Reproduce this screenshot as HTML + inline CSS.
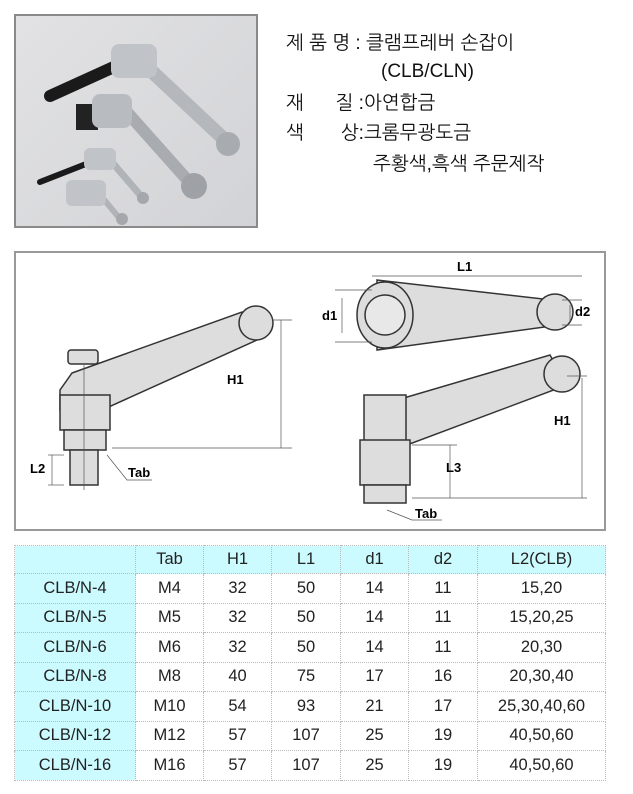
<!DOCTYPE html>
<html><head><meta charset="utf-8"><style>
body{margin:0;width:633px;height:794px;background:#fff;position:relative;overflow:hidden;font-family:"Liberation Sans","Noto Sans CJK KR",sans-serif}
.photo{position:absolute;left:14px;top:14px;width:244px;height:214px;border:2px solid #8a8a8a;background:linear-gradient(135deg,#e2e2e4,#d2d3d6);box-sizing:border-box}
.t{position:absolute;font-size:19px;color:#111;white-space:pre;font-family:"Liberation Sans","NanumGothic","Noto Sans CJK KR",sans-serif}
.diag{position:absolute;left:14px;top:251px;width:592px;height:280px;border:2px solid #999;box-sizing:border-box;background:#fff}
table{position:absolute;left:14px;top:545px;border-collapse:collapse;font-size:16.5px;color:#222}
td{border:1px dotted #bbb;text-align:center;height:28.5px;padding:0}
tr:first-child td{background:#ccfbff;height:27px}
td:first-child{background:#ccfbff}
</style></head><body>
<div class="photo">
<svg width="240" height="210" viewBox="0 0 240 210">
<g stroke-linecap="round">
<line x1="34" y1="80" x2="100" y2="50" stroke="#1a1a1a" stroke-width="12"/>
<line x1="130" y1="50" x2="210" y2="125" stroke="#b4b8bc" stroke-width="14"/>
<rect x="95" y="28" width="46" height="34" rx="8" fill="#c0c3c7"/>
<circle cx="212" cy="128" r="12" fill="#a8acb1"/>
<rect x="60" y="88" width="22" height="26" fill="#222"/>
<line x1="110" y1="95" x2="175" y2="168" stroke="#a8acb1" stroke-width="12"/>
<rect x="76" y="78" width="40" height="34" rx="8" fill="#b8bcc0"/>
<circle cx="178" cy="170" r="13" fill="#9ea2a7"/>
<line x1="24" y1="166" x2="70" y2="148" stroke="#1a1a1a" stroke-width="6"/>
<line x1="95" y1="145" x2="125" y2="180" stroke="#b0b4b9" stroke-width="7"/>
<rect x="68" y="132" width="32" height="22" rx="6" fill="#c0c3c7"/>
<circle cx="127" cy="182" r="6" fill="#a4a8ad"/>
<line x1="85" y1="180" x2="105" y2="204" stroke="#b0b4b9" stroke-width="6"/>
<rect x="50" y="164" width="40" height="26" rx="6" fill="#c0c3c7"/>
<circle cx="106" cy="203" r="6" fill="#a4a8ad"/>
</g></svg>
</div>
<div class="t" style="left:286px;top:31px">제 품 명 : 클램프레버 손잡이</div>
<div class="t" style="left:381px;top:61px">(CLB/CLN)</div>
<div class="t" style="left:286px;top:91px">재      질 :아연합금</div>
<div class="t" style="left:286px;top:121px">색       상:크롬무광도금</div>
<div class="t" style="left:373px;top:152px">주황색,흑색 주문제작</div>
<div class="diag">
<svg width="588" height="276" viewBox="14 253 588 276" font-family="Liberation Sans" font-weight="bold" font-size="13">
<g fill="#ddd" stroke="#333" stroke-width="1.5">
<path d="M70 373 L240 312 L255 340 L100 410 L58 410 L58 390 Z"/>
<rect x="58" y="395" width="50" height="35"/>
<rect x="62" y="430" width="42" height="20"/>
<rect x="68" y="450" width="28" height="35"/>
<rect x="66" y="350" width="30" height="14" rx="3"/>
<circle cx="254" cy="323" r="17"/>
<path d="M375 280 L550 300 L550 326 L375 350 Z"/>
<ellipse cx="383" cy="315" rx="28" ry="33"/>
<circle cx="383" cy="315" r="20" fill="#e8e8e8"/>
<circle cx="553" cy="312" r="18"/>
<path d="M395 400 L548 355 L565 385 L405 445 Z"/>
<rect x="362" y="395" width="42" height="50"/>
<rect x="358" y="440" width="50" height="45"/>
<rect x="362" y="485" width="42" height="18"/>
<circle cx="560" cy="374" r="18"/>
</g>
<g stroke="#555" stroke-width="0.7" fill="none">
<line x1="82" y1="365" x2="82" y2="490"/><line x1="270" y1="320" x2="290" y2="320"/>
<line x1="279" y1="320" x2="279" y2="448"/><line x1="110" y1="448" x2="290" y2="448"/>
<line x1="50" y1="455" x2="50" y2="485"/><line x1="46" y1="455" x2="62" y2="455"/><line x1="46" y1="485" x2="62" y2="485"/>
<line x1="370" y1="276" x2="580" y2="276"/><line x1="340" y1="298" x2="340" y2="333"/>
<line x1="333" y1="290" x2="370" y2="290"/><line x1="333" y1="342" x2="370" y2="342"/>
<line x1="568" y1="305" x2="568" y2="322"/><line x1="560" y1="300" x2="580" y2="300"/><line x1="560" y1="325" x2="580" y2="325"/>
<line x1="580" y1="378" x2="580" y2="498"/><line x1="565" y1="376" x2="585" y2="376"/><line x1="410" y1="498" x2="585" y2="498"/>
<line x1="448" y1="445" x2="448" y2="498"/><line x1="410" y1="445" x2="455" y2="445"/>
<path d="M105 455 L125 480 L150 480"/><path d="M385 510 L410 520 L440 520"/>
</g>
<text x="225" y="384">H1</text><text x="28" y="473">L2</text><text x="126" y="477">Tab</text>
<text x="455" y="271">L1</text><text x="320" y="320">d1</text><text x="573" y="316">d2</text>
<text x="552" y="425">H1</text><text x="444" y="472">L3</text><text x="413" y="518">Tab</text>
</svg>
</div>
<table>
<tr><td style="width:120px"></td><td style="width:67px">Tab</td><td style="width:67px">H1</td><td style="width:68px">L1</td><td style="width:67px">d1</td><td style="width:68px">d2</td><td style="width:127px">L2(CLB)</td></tr>
<tr><td>CLB/N-4</td><td>M4</td><td>32</td><td>50</td><td>14</td><td>11</td><td>15,20</td></tr>
<tr><td>CLB/N-5</td><td>M5</td><td>32</td><td>50</td><td>14</td><td>11</td><td>15,20,25</td></tr>
<tr><td>CLB/N-6</td><td>M6</td><td>32</td><td>50</td><td>14</td><td>11</td><td>20,30</td></tr>
<tr><td>CLB/N-8</td><td>M8</td><td>40</td><td>75</td><td>17</td><td>16</td><td>20,30,40</td></tr>
<tr><td>CLB/N-10</td><td>M10</td><td>54</td><td>93</td><td>21</td><td>17</td><td>25,30,40,60</td></tr>
<tr><td>CLB/N-12</td><td>M12</td><td>57</td><td>107</td><td>25</td><td>19</td><td>40,50,60</td></tr>
<tr><td>CLB/N-16</td><td>M16</td><td>57</td><td>107</td><td>25</td><td>19</td><td>40,50,60</td></tr>
</table>
</body></html>
